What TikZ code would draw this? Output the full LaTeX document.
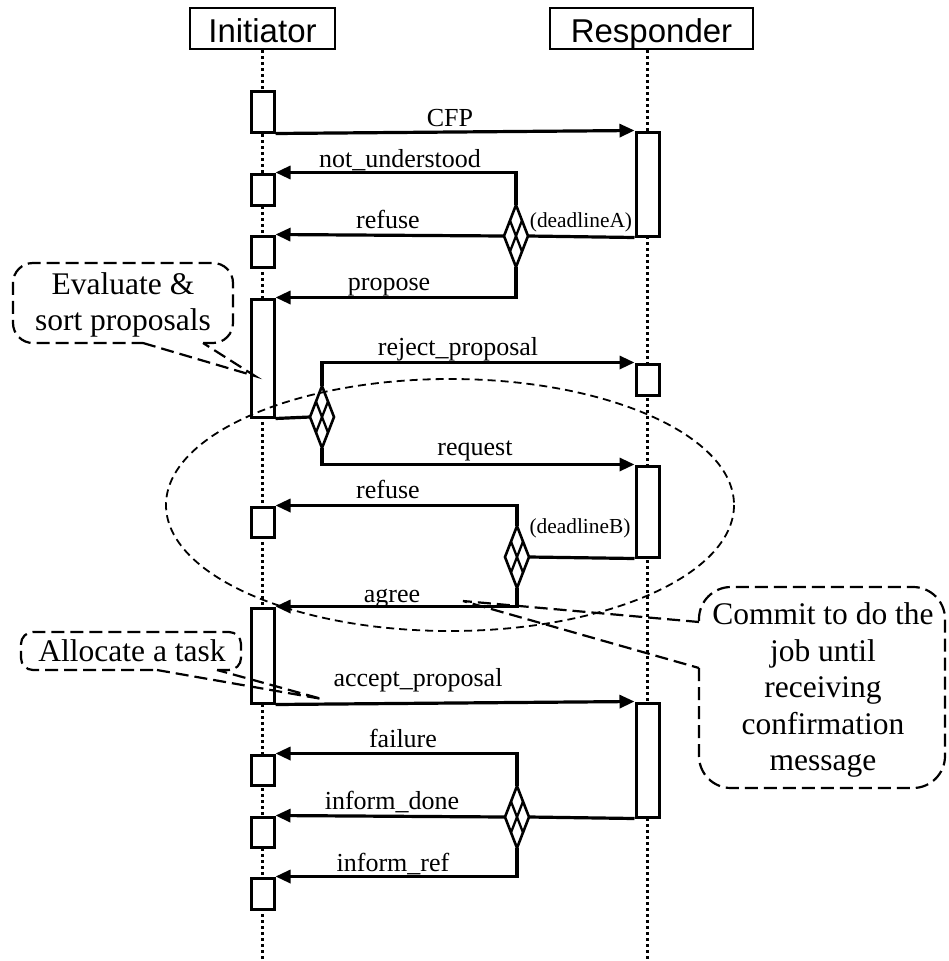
\documentclass[tikz,border=0pt]{standalone}
\usepackage{fontspec}
\setmainfont{Liberation Serif}
\newfontfamily\headfont{Liberation Sans}
\usetikzlibrary{arrows.meta,shapes.geometric,calc}

% inner grid of an exclusive-or connector
\newcommand\xorgrid[1]{%
  \draw[xorline] ($(#1.north)!.5!(#1.west)$) -- ($(#1.south)!.5!(#1.east)$);
  \draw[xorline] ($(#1.north)!.5!(#1.east)$) -- ($(#1.south)!.5!(#1.west)$);}

\begin{document}
\begin{tikzpicture}[x=1pt,y=-1pt,
  head/.style={draw, line width=2.6pt, inner sep=0, minimum height=41,
    text height=28, text depth=0,
    font=\headfont\fontsize{33}{36}\selectfont},
  lifeline/.style={line width=2.7pt, dash pattern=on 2.7pt off 3.3pt},
  act/.style={draw, fill=white, line width=3pt, inner sep=0, minimum width=23},
  xor/.style={draw, diamond, fill=white, line width=2.6pt, inner sep=0,
    outer sep=0, minimum width=24, minimum height=62},
  xorline/.style={line width=2.3pt},
  msg/.style={line width=3.2pt, -{Triangle[length=15pt,width=13pt]}},
  plain/.style={line width=3.2pt},
  lbl/.style={font=\fontsize{26}{30}\selectfont, inner sep=0, anchor=base},
  dl/.style={font=\fontsize{21.4}{24}\selectfont, inner sep=0},
  note/.style={font=\fontsize{31.5}{36.5}\selectfont, align=center, inner sep=0},
  noteline/.style={line width=2.2pt, dash pattern=on 13pt off 6pt},
  scopeline/.style={line width=1.8pt, dash pattern=on 8pt off 5pt}]

\useasboundingbox (0,0) rectangle (948,961);

% participants
\node[head, minimum width=145] (init) at (262.5,28.5) {Initiator};
\node[head, minimum width=203] (resp) at (651.5,28.5) {Responder};
\coordinate (iend) at (262.5,961);
\coordinate (rend) at (647.5,961);

% lifelines
\draw[lifeline] (init.south) -- (iend);
\draw[lifeline] (rend |- resp.south) -- (rend);

% activations of the initiator
\node[act, minimum height=41]  (i1) at (262.5,111.5) {};
\node[act, minimum height=31]  (i2) at (262.5,189.5) {};
\node[act, minimum height=31]  (i3) at (262.5,251.5) {};
\node[act, minimum height=118] (i4) at (262.5,358) {};
\node[act, minimum height=30]  (i5) at (262.5,522) {};
\node[act, minimum height=95]  (i6) at (262.5,655.5) {};
\node[act, minimum height=30]  (i7) at (262.5,770) {};
\node[act, minimum height=30]  (i8) at (262.5,832) {};
\node[act, minimum height=31]  (i9) at (262.5,893.5) {};

% activations of the responder
\node[act, minimum height=104] (r1) at (647.5,184) {};
\node[act, minimum height=31]  (r2) at (647.5,379.5) {};
\node[act, minimum height=91]  (r3) at (647.5,511.5) {};
\node[act, minimum height=114] (r4) at (647.5,760) {};

% exclusive-or connectors
\node[xor] (d1) at (516,236) {};
\node[xor] (d2) at (322,417) {};
\node[xor] (d3) at (517,557) {};
\node[xor] (d4) at (517,817) {};
\xorgrid{d1}
\xorgrid{d2}
\xorgrid{d3}
\xorgrid{d4}

% messages
\draw[msg] (i1.south east) -- (r1.north west);
\draw[msg] (d1.north) |- (i2.north east);
\draw[msg] (d1.west) -- (i3.north east);
\draw[msg] (d1.south) |- (i4.north east);
\draw[plain] (d1.east) -- (r1.south west);

\draw[plain] (i4.south east) -- (d2.west);
\draw[msg] (d2.north) |- (r2.north west);
\draw[msg] (d2.south) |- (r3.north west);

\draw[msg] (d3.north) |- (i5.north east);
\draw[msg] (d3.south) |- (i6.north east);
\draw[plain] (d3.east) -- (r3.south west);

\draw[msg] (i6.south east) -- (r4.north west);

\draw[msg] (d4.north) |- (i7.north east);
\draw[msg] (d4.west) -- (i8.north east);
\draw[msg] (d4.south) |- (i9.north east);
\draw[plain] (d4.east) -- (r4.south west);

% message labels
\node[lbl] (lcfp) at (450,126) {CFP};
\node[lbl] (lnu)  at (400,167) {not\_understood};
\node[lbl] (lrf1) at (388,228) {refuse};
\node[lbl] (lpro) at (389,290) {propose};
\node[lbl] (lrej) at (458,355) {reject\_proposal};
\node[lbl] (lreq) at (475,455) {request};
\node[lbl] (lrf2) at (388,498) {refuse};
\node[lbl] (lagr) at (392,602) {agree};
\node[lbl] (lacc) at (418,686) {accept\_proposal};
\node[lbl] (lfai) at (403,747) {failure};
\node[lbl] (lidn) at (392,809) {inform\_done};
\node[lbl] (lirf) at (393,871) {inform\_ref};
\node[dl] (dla) at (581,222) {(deadlineA)};
\node[dl] (dlb) at (580,528) {(deadlineB)};

% scope of the request / agree exchange
\draw[scopeline] (450,505) ellipse [x radius=284, y radius=126];

% notes
\node[note] (nev) at (123,305) {Evaluate \&\\sort proposals};
\draw[noteline, rounded corners=20pt]
  (203,343) -- (233,343) -- (233,263) -- (13,263) -- (13,343) -- (143,343);
\draw[noteline] (143,343) -- (255,376) -- (203,343);

\node[note] (nal) at (132,651) {Allocate a task};
\draw[noteline, rounded corners=12pt]
  (217,670) -- (241,670) -- (241,632) -- (21,632) -- (21,670) -- (157,670);
\draw[noteline] (157,670) -- (322,699) -- (217,670);

\node[note] (ncm) at (823,690)
  {Commit to do the\\job until\\receiving\\confirmation\\message};
\draw[noteline, rounded corners=32pt]
  (699,668) -- (699,788) -- (945,788) -- (945,587) -- (699,587) -- (699,622);
\draw[noteline] (699,622) -- (463,601) -- (699,668);

\end{tikzpicture}
\end{document}
